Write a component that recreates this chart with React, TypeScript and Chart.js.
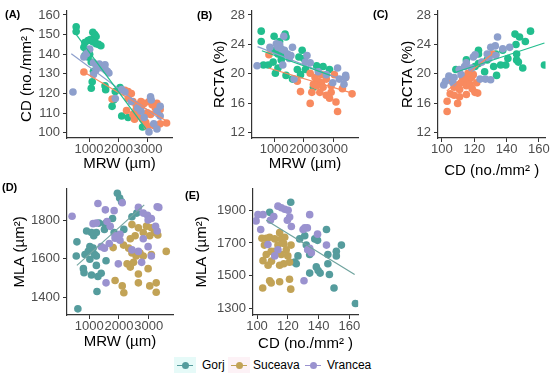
import React, { useEffect, useRef } from "react";
import { Chart, registerables } from "chart.js";
Chart.register(...registerables);

const FONT = "'Liberation Sans', Arial, Helvetica, sans-serif";
type Pt = [number, number];

// ---------- colours ----------
const COL_GREEN = "#22BE8E";
const COL_ORANGE = "#F88A5F";
const COL_BLUE = "#8D9FCC";
const COL_GORJ = "#559C9D";
const COL_SUCEAVA = "#C2A356";
const COL_VRANCEA = "#9A92CF";

// ---------- tick labels ----------
const MRW_TICKS = [1000, 2000, 3000];
const CD_TICKS_X = [100, 120, 140, 160];
const CD_TICKS_Y = [100, 110, 120, 130, 140, 150, 160];
const RCTA_TICKS = [12, 16, 20, 24, 28];
const MLA_TICKS_D = [1400, 1600, 1800];
const MLA_TICKS_E = [1300, 1500, 1700, 1900];

// ---------- (A) MRW vs CD ----------
const A_GORJ: Pt[] = [[565,154],[565,151.6],[1130,151.2],[1195,150],[1240,149],[967,147],[1043,147.5],[1130,146.4],[1240,145.4],[1326,145],[1402,144.3],[859,146],[826,143.5],[913,142],[1022,140],[859,139.4],[967,138.6],[1076,136],[1152,131.3],[1109,126],[1076,122.7],[1565,122],[1543,124],[1891,121],[1837,116.7],[1783,113.5],[2109,108.6],[2326,107.8],[2815,103],[2054,123]];
const A_SUCEAVA: Pt[] = [[826,131],[1783,117.2],[2217,121.6],[2326,121],[2435,120],[2326,117.5],[2490,115.9],[2598,114.3],[2761,116],[2870,115],[3033,116],[2598,111.9],[2761,113],[2978,110.2],[3087,109.4],[3250,112.7],[3413,111.9],[2490,109.4],[2652,108.6],[2815,107],[2924,105.4],[2978,103.3],[3196,103.8],[3413,104.6],[3630,105],[3141,114.3],[3304,115],[2272,111.4],[2543,107]];
const A_VRANCEA: Pt[] = [[456,120.8],[826,138.6],[913,140.2],[1022,142.6],[1152,135.7],[1240,134.6],[1293,133.7],[1348,135],[1457,133],[1565,132],[1620,131.3],[1674,130.5],[1543,134.6],[1152,129.7],[1240,132],[2109,122],[2217,120.8],[1891,117.5],[2435,116],[2652,112.7],[2761,111],[3087,118.3],[3109,116.7],[3304,111],[3413,113.5],[3413,108.6],[3033,100.5],[3196,104.6],[3304,102],[2870,107.8]];
const A_LINE_GORJ: Pt[] = [[520,151],[2930,102]];
const A_LINE_SUCEAVA: Pt[] = [[780,131.3],[3700,105.4]];
const A_LINE_VRANCEA: Pt[] = [[400,140.2],[3450,106.5]];

// ---------- (B) MRW vs RCTA ----------
const B_GORJ: Pt[] = [[565,25.8],[565,24.4],[1000,25.1],[1370,25.4],[1402,25],[1185,24.4],[641,21.2],[804,21.2],[967,21.6],[1022,23.2],[1130,22.7],[1240,22.5],[1240,21.9],[1130,20.8],[1043,20.1],[1402,19.8],[1620,19.3],[1783,20.6],[1837,22.3],[1946,23.2],[2000,22.1],[1891,19.9],[2054,20.6],[2435,21.1],[2652,21.0],[2870,20.6],[2326,18.2]];
const B_SUCEAVA: Pt[] = [[826,22.6],[1783,19.0],[2217,20.1],[2380,19.5],[2490,19.0],[2598,18.8],[2326,18.6],[2435,18.4],[2652,18.2],[2761,19.3],[2924,18.4],[3033,19.9],[2924,17.5],[2761,17.1],[2543,17.5],[2870,16.7],[2272,17.5],[1891,17.6],[2217,16.0],[3087,16.2],[3141,14.9],[3413,19.5],[3630,17.3],[3304,18.0],[2598,19.9]];
const B_VRANCEA: Pt[] = [[424,21.1],[859,23.6],[1076,24.1],[1185,24.0],[1326,25.1],[1130,23.6],[1240,23.4],[1348,23.2],[1457,22.7],[1565,22.5],[1620,23.6],[1511,22.1],[1293,21.2],[2109,22.5],[2054,21.6],[2217,21.5],[1674,19.3],[2490,20.3],[2761,19.9],[3141,20.8],[3413,19.8],[3413,19.5],[3196,19.3],[3358,18.6],[2978,18.8]];
const B_LINE_GORJ: Pt[] = [[587,23.15],[2900,19.8]];
const B_LINE_SUCEAVA: Pt[] = [[810,20.8],[3720,17.3]];
const B_LINE_VRANCEA: Pt[] = [[440,23.7],[3420,19.0]];

// ---------- (C) CD vs RCTA ----------
const C_GORJ: Pt[] = [[154.8,25.8],[145.2,25.4],[148,25],[151.6,24.4],[145.8,24.0],[122.6,23.2],[122.6,22.7],[128,21.9],[115.1,21.9],[133.3,22.7],[137.6,23.2],[140.8,22.1],[146.2,22.7],[146.2,21.9],[147.3,21.6],[139.5,21.2],[136.3,21.2],[132,21.0],[150,20.8],[163.4,21.2],[133.8,19.8],[122.6,21.4],[120.4,21.0],[108.6,20.6],[126.4,20.3],[118.3,20.1]];
const C_SUCEAVA: Pt[] = [[103.2,14.9],[103.2,16.3],[109.7,16.0],[105.1,17.3],[107.5,17.1],[110.9,16.9],[115.1,17.2],[120.4,17.5],[122.1,17.4],[107.5,18.2],[109.7,18.5],[111.8,18.8],[114,19.0],[116.1,19.3],[118.3,19.5],[119.4,19.9],[116.1,20.1],[112.8,19.5],[115.1,18.4],[117.3,18.6],[110.9,17.9],[131.2,22.7],[121.5,18.8],[105.7,19.1],[118.7,18.0]];
const C_VRANCEA: Pt[] = [[101.1,18.5],[102.2,19.0],[104.3,19.7],[107.5,19.5],[110.7,20.6],[114,21.0],[115.1,21.5],[119.4,22.3],[120.5,22.6],[124.7,21.6],[128,22.7],[130.2,23.6],[133,23.8],[134.4,25.0],[137.6,23.4],[141.9,23.6],[129.1,22.1],[123.6,19.3],[126.9,19.3],[130.1,19.2],[118.3,20.8],[111.8,19.9],[106.8,18.8],[133.3,22.5]];
const C_LINE_GORJ: Pt[] = [[108,20.2],[163.4,24.2]];
const C_LINE_SUCEAVA: Pt[] = [[103,17.7],[131,22.7]];

// ---------- (D) MRW vs MLA ----------
const D_GORJ: Pt[] = [[1946,1943],[2022,1918],[2087,1898],[587,1689],[565,1615],[804,1549],[826,1528],[859,1623],[967,1639],[1022,1664],[1130,1656],[1185,1623],[1240,1615],[1022,1598],[1240,1566],[1293,1508],[1076,1516],[1402,1525],[1565,1590],[1261,1430],[1152,1721],[1240,1738],[1076,1738],[913,1746],[1511,1754],[1326,1787],[1543,1784],[1783,1811],[1837,1738],[2163,1754],[2435,1820],[2598,1839],[619,1339]];
const D_SUCEAVA: Pt[] = [[1804,1659],[1869,1487],[2152,1672],[2435,1779],[2652,1762],[2924,1771],[3087,1762],[3196,1738],[3304,1725],[3033,1721],[2815,1738],[2543,1721],[2380,1705],[2326,1656],[2435,1631],[2576,1615],[2707,1631],[2815,1615],[2490,1582],[2272,1574],[2380,1557],[2652,1521],[2978,1549],[2109,1459],[2163,1423],[2652,1475],[3033,1459],[3250,1426],[3250,1475],[3587,1639],[3087,1623]];
const D_VRANCEA: Pt[] = [[424,1823],[1293,1889],[1543,1856],[1837,1852],[2109,1893],[1130,1784],[1240,1787],[1598,1795],[1706,1770],[1870,1721],[1870,1708],[2033,1697],[1402,1664],[1511,1656],[1674,1680],[2033,1729],[2652,1869],[2815,1839],[2957,1828],[3087,1811],[2978,1803],[3283,1872],[3337,1869],[3228,1770],[3283,1746],[1978,1574],[1565,1475],[2761,1582],[3087,1615],[2978,1664],[2652,1639],[2435,1647],[2815,1705]];
const D_LINE: Pt[] = [[587,1566],[2848,1882]];

// ---------- (E) CD vs MLA ----------
const E_GORJ: Pt[] = [[121.9,1949],[108.2,1887],[127.7,1725],[137.5,1725],[139.3,1716],[145.1,1782],[131,1744],[132,1687],[134.2,1630],[126.6,1621],[124.5,1583],[125.5,1573],[146,1630],[151.5,1649],[151.5,1621],[154.8,1687],[138.5,1554],[139.7,1532],[141,1516],[134.2,1516],[146,1573],[147,1507],[150,1425],[163.9,1330]];
const E_SUCEAVA: Pt[] = [[103.2,1729],[106,1729],[108.2,1735],[111.5,1725],[115.8,1725],[118,1735],[114.7,1763],[117.4,1697],[113.6,1687],[104.8,1687],[106,1630],[103.9,1592],[109.4,1589],[107.2,1564],[114.7,1564],[117.4,1573],[119,1659],[120,1621],[111.5,1649],[121.1,1583],[122.1,1687],[108.2,1469],[109.2,1456],[114.7,1463],[121.1,1478],[103.7,1425],[121.9,1418],[115.8,1630],[109.2,1649]];
const E_VRANCEA: Pt[] = [[100.6,1873],[103.9,1873],[99.4,1835],[108.7,1839],[110.9,1862],[113.6,1925],[115.8,1915],[118,1906],[120.2,1900],[121.2,1858],[119.7,1839],[122.3,1801],[134.2,1873],[131,1792],[132.7,1792],[129.9,1782],[139.3,1754],[145.1,1687],[132.9,1659],[134.2,1668],[135.3,1640],[130.5,1469],[102.4,1782],[107.1,1691],[113.6,1659],[111.5,1621]];
const E_LINE: Pt[] = [[106,1839],[163.4,1507]];

interface Series { data: Pt[]; color: string }
interface Panel {
  label: string; labelX: number; labelY: number;
  left: number; top: number; width: number; height: number;
  yWidth: number; xHeight: number; padTop: number; padRight: number; yTitlePad: number;
  xMin: number; xMax: number; yMin: number; yMax: number;
  xTicks: number[]; yTicks: number[]; xTitle: string; yTitle: string;
  series: Series[]; lines: Series[];
}

const PANELS: Panel[] = [
  { label: "(A)", labelX: 5, labelY: 8, left: 0, top: 0, width: 178, height: 173, yWidth: 67, xHeight: 35, padTop: 5, padRight: 6, yTitlePad: 18,
    xMin: 254, xMax: 3814, yMin: 97.4, yMax: 162.1, xTicks: MRW_TICKS, yTicks: CD_TICKS_Y, xTitle: "MRW (µm)", yTitle: "CD (no./mm² )",
    series: [{ data: A_GORJ, color: COL_GREEN }, { data: A_SUCEAVA, color: COL_ORANGE }, { data: A_VRANCEA, color: COL_BLUE }],
    lines: [{ data: A_LINE_GORJ, color: COL_GREEN }, { data: A_LINE_SUCEAVA, color: COL_ORANGE }, { data: A_LINE_VRANCEA, color: COL_BLUE }] },
  { label: "(B)", labelX: 197, labelY: 9, left: 182, top: 0, width: 180, height: 173, yWidth: 70, xHeight: 35, padTop: 5, padRight: 4, yTitlePad: 29,
    xMin: 254, xMax: 3830, yMin: 11.31, yMax: 28.56, xTicks: MRW_TICKS, yTicks: RCTA_TICKS, xTitle: "MRW (µm)", yTitle: "RCTA (%)",
    series: [{ data: B_GORJ, color: COL_GREEN }, { data: B_SUCEAVA, color: COL_ORANGE }, { data: B_VRANCEA, color: COL_BLUE }],
    lines: [{ data: B_LINE_GORJ, color: COL_GREEN }, { data: B_LINE_SUCEAVA, color: COL_ORANGE }, { data: B_LINE_VRANCEA, color: COL_BLUE }] },
  { label: "(C)", labelX: 373, labelY: 8, left: 366, top: 0, width: 184, height: 180, yWidth: 72, xHeight: 42, padTop: 5, padRight: 3, yTitlePad: 33,
    xMin: 97.55, xMax: 164.1, yMin: 11.31, yMax: 28.56, xTicks: CD_TICKS_X, yTicks: RCTA_TICKS, xTitle: "CD (no./mm² )", yTitle: "RCTA (%)",
    series: [{ data: C_GORJ, color: COL_GREEN }, { data: C_SUCEAVA, color: COL_ORANGE }, { data: C_VRANCEA, color: COL_BLUE }],
    lines: [{ data: C_LINE_GORJ, color: COL_GREEN }, { data: C_LINE_SUCEAVA, color: COL_ORANGE }] },
  { label: "(D)", labelX: 2, labelY: 181, left: 0, top: 178, width: 178, height: 173, yWidth: 67, xHeight: 36, padTop: 2, padRight: 5, yTitlePad: 11,
    xMin: 254, xMax: 3814, yMin: 1307, yMax: 1966, xTicks: MRW_TICKS, yTicks: MLA_TICKS_D, xTitle: "MRW (µm)", yTitle: "MLA (µm²)",
    series: [{ data: D_GORJ, color: COL_GORJ }, { data: D_SUCEAVA, color: COL_SUCEAVA }, { data: D_VRANCEA, color: COL_VRANCEA }],
    lines: [{ data: D_LINE, color: "#76A6A2" }] },
  { label: "(E)", labelX: 185, labelY: 189, left: 182, top: 178, width: 180, height: 175, yWidth: 71, xHeight: 38, padTop: 2, padRight: 2, yTitlePad: 11,
    xMin: 97.4, xMax: 165.7, yMin: 1260, yMax: 2031, xTicks: CD_TICKS_X, yTicks: MLA_TICKS_E, xTitle: "CD (no./mm² )", yTitle: "MLA (µm²)",
    series: [{ data: E_GORJ, color: COL_GORJ }, { data: E_SUCEAVA, color: COL_SUCEAVA }, { data: E_VRANCEA, color: COL_VRANCEA }],
    lines: [{ data: E_LINE, color: "#6FA39E" }] },
];

const LEGEND = [
  { name: "Gorj", color: COL_GORJ, mx: 177, tx: 202, bg: "#E6FAF8" },
  { name: "Suceava", color: COL_SUCEAVA, mx: 231, tx: 253, bg: "#FDF2F6" },
  { name: "Vrancea", color: COL_VRANCEA, mx: 305, tx: 327, bg: "transparent" },
];

const toXY = (d: Pt[]) => d.map(([x, y]) => ({ x, y }));

function PanelChart({ p }: { p: Panel }) {
  const ref = useRef<HTMLCanvasElement>(null);
  useEffect(() => {
    if (!ref.current) return;
    const n = p.series.length;
    const datasets: any[] = [
      ...p.lines.map((l) => ({
        data: toXY(l.data), showLine: true, borderColor: l.color, borderWidth: 1.2,
        pointRadius: 0, pointHoverRadius: 0, fill: false, order: 0,
      })),
      ...p.series.map((s, i) => ({
        data: toXY(s.data), backgroundColor: s.color, borderWidth: 0,
        pointRadius: 3.8, pointHoverRadius: 3.8, order: n - i,
      })),
    ];
    const axisCommon = {
      type: "linear" as const,
      grid: { drawOnChartArea: false, drawTicks: true, tickLength: 4, color: "#333333", lineWidth: 1 },
      border: { display: true, color: "#333333", width: 1.2 },
    };
    const chart = new Chart(ref.current, {
      type: "scatter",
      data: { datasets },
      options: {
        animation: false, responsive: false, devicePixelRatio: 1,
        layout: { padding: { top: p.padTop, right: p.padRight, left: 0, bottom: 0 } },
        plugins: { legend: { display: false }, tooltip: { enabled: false }, title: { display: false } },
        events: [],
        scales: {
          x: {
            ...axisCommon, min: p.xMin, max: p.xMax,
            afterFit: (s: any) => { s.height = p.xHeight; },
            afterBuildTicks: (s: any) => { s.ticks = p.xTicks.map((v) => ({ value: v })); },
            ticks: { autoSkip: false, maxRotation: 0, minRotation: 0, padding: 0, color: "#4D4D4D",
              font: { family: FONT, size: 13 }, callback: (v: any) => String(v) },
            title: { display: true, text: p.xTitle, color: "#000000", font: { family: FONT, size: 15 }, padding: 0 },
          },
          y: {
            ...axisCommon, min: p.yMin, max: p.yMax,
            afterFit: (s: any) => { s.width = p.yWidth; },
            afterBuildTicks: (s: any) => { s.ticks = p.yTicks.map((v) => ({ value: v })); },
            ticks: { autoSkip: false, padding: 3, color: "#4D4D4D",
              font: { family: FONT, size: 13 }, callback: (v: any) => String(v) },
            title: { display: true, text: p.yTitle, color: "#000000", font: { family: FONT, size: 15 },
              padding: { top: p.yTitlePad, bottom: 0 } },
          },
        },
      } as any,
    });
    return () => chart.destroy();
  }, [p]);
  return (
    <canvas ref={ref} width={p.width} height={p.height}
      style={{ position: "absolute", left: p.left, top: p.top, width: p.width, height: p.height }} />
  );
}

export default function App() {
  return (
    <div style={{ position: "absolute", left: 0, top: 0, width: 550, height: 374, background: "#ffffff", overflow: "hidden", fontFamily: FONT }}>
      {PANELS.map((p) => (
        <React.Fragment key={p.label}>
          <PanelChart p={p} />
          <div style={{ position: "absolute", left: p.labelX, top: p.labelY, fontSize: 11, fontWeight: "bold", color: "#000", lineHeight: "12px" }}>
            {p.label}
          </div>
        </React.Fragment>
      ))}
      {LEGEND.map((l) => (
        <React.Fragment key={l.name}>
          <div style={{ position: "absolute", left: l.mx - 3, top: 357, width: 22, height: 16, background: l.bg }} />
          <div style={{ position: "absolute", left: l.mx, top: 364.5, width: 16, height: 1.3, background: l.color }} />
          <div style={{ position: "absolute", left: l.mx + 4.5, top: 361.5, width: 7, height: 7, borderRadius: "50%", background: l.color }} />
          <div style={{ position: "absolute", left: l.tx, top: 358, fontSize: 12, lineHeight: "14px", color: "#000" }}>{l.name}</div>
        </React.Fragment>
      ))}
    </div>
  );
}
